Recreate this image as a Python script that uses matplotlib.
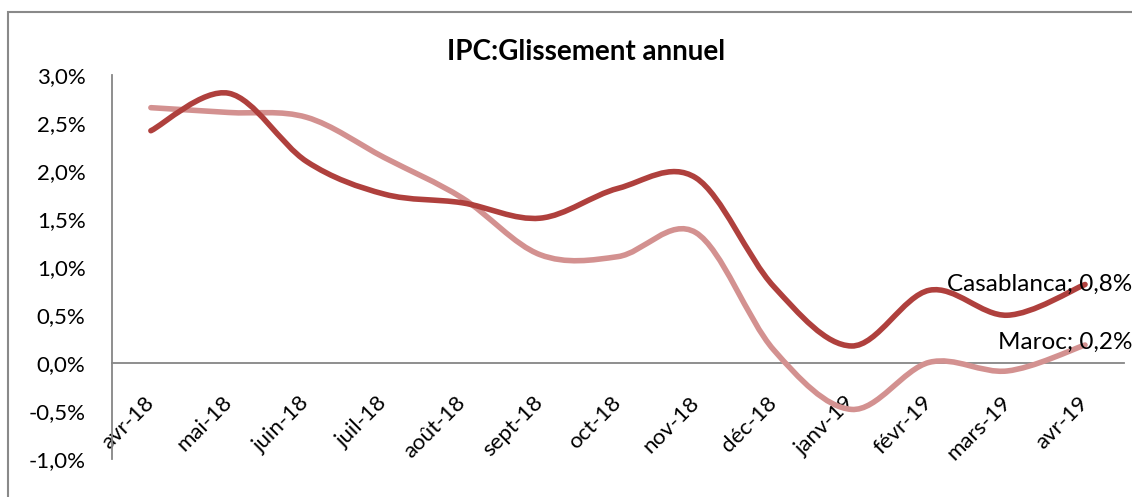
import numpy as np
import matplotlib.pyplot as plt
from matplotlib.path import Path
from matplotlib.patches import PathPatch, Rectangle

plt.rcParams['font.family'] = ['Lato', 'DejaVu Sans']

mois = ['avr-18', 'mai-18', 'juin-18', 'juil-18', 'août-18', 'sept-18', 'oct-18',
        'nov-18', 'déc-18', 'janv-19', 'févr-19', 'mars-19', 'avr-19']
casablanca = [2.42, 2.81, 2.10, 1.76, 1.67, 1.51, 1.82, 1.93, 0.80, 0.18, 0.76, 0.50, 0.82]
maroc = [2.66, 2.61, 2.56, 2.14, 1.72, 1.13, 1.11, 1.36, 0.14, -0.48, 0.01, -0.08, 0.19]
yticks = [-1.0, -0.5, 0.0, 0.5, 1.0, 1.5, 2.0, 2.5, 3.0]


def smooth_path(x, y):
    # courbe lissée façon Excel (Bezier / Catmull-Rom)
    p = np.column_stack([x, y]).astype(float)
    n = len(p)
    verts = [p[0]]
    codes = [Path.MOVETO]
    for i in range(n - 1):
        p0 = p[i - 1] if i > 0 else p[i]
        p3 = p[i + 2] if i + 2 < n else p[i + 1]
        c1 = p[i] + (p[i + 1] - p0) / 6
        c2 = p[i + 1] - (p3 - p[i]) / 6
        verts += [c1, c2, p[i + 1]]
        codes += [Path.CURVE4] * 3
    return Path(verts, codes)


fig = plt.figure(figsize=(11.32, 4.97), dpi=100)
ax = fig.add_axes([0.0989, 0.0757, 0.8940, 0.7734])

# axe des x sur la ligne 0 (avant de régler les ticks)
for s in ['top', 'right']:
    ax.spines[s].set_visible(False)
ax.spines['bottom'].set_position(('data', 0))
for s in ['left', 'bottom']:
    ax.spines[s].set_color('#868686')
    ax.spines[s].set_linewidth(1.3)

x = np.arange(len(mois))
ax.add_patch(PathPatch(smooth_path(x, maroc), facecolor='none', edgecolor='#D39190',
                       lw=4, capstyle='round', zorder=3))
ax.add_patch(PathPatch(smooth_path(x, casablanca), facecolor='none', edgecolor='#AF403D',
                       lw=4, capstyle='round', zorder=4))

ax.set_xlim(-0.5, len(mois) - 0.5)
ax.set_ylim(-1.0, 3.0)
ax.set_yticks(yticks)
ax.set_yticklabels([f"{v:.1f}%".replace('.', ',') for v in yticks], fontsize=16)
ax.set_xticks(x)
ax.set_xticklabels(mois, fontsize=16, rotation=45, ha='right', va='center',
                   rotation_mode='anchor')
ax.tick_params(axis='both', length=0)
ax.tick_params(axis='y', pad=19)
ax.tick_params(axis='x', pad=26)

ax.annotate('Casablanca; 0,8%', xy=(x[-1], casablanca[-1]), xytext=(34, 0),
            textcoords='offset points', ha='right', va='center', fontsize=17.5, zorder=5)
ax.annotate('Maroc; 0,2%', xy=(x[-1], maroc[-1]), xytext=(34, 2),
            textcoords='offset points', ha='right', va='center', fontsize=17.5, zorder=5)

fig.text(0.518, 0.895, 'IPC:Glissement annuel', ha='center', va='center',
         fontsize=20, fontweight='bold')

fig.patches.append(Rectangle((0.0071, -0.05), 1.1, 0.9759 + 0.05, transform=fig.transFigure,
                             facecolor='none', edgecolor='#898989', lw=1.5))

fig.savefig('out.png', dpi=100)
